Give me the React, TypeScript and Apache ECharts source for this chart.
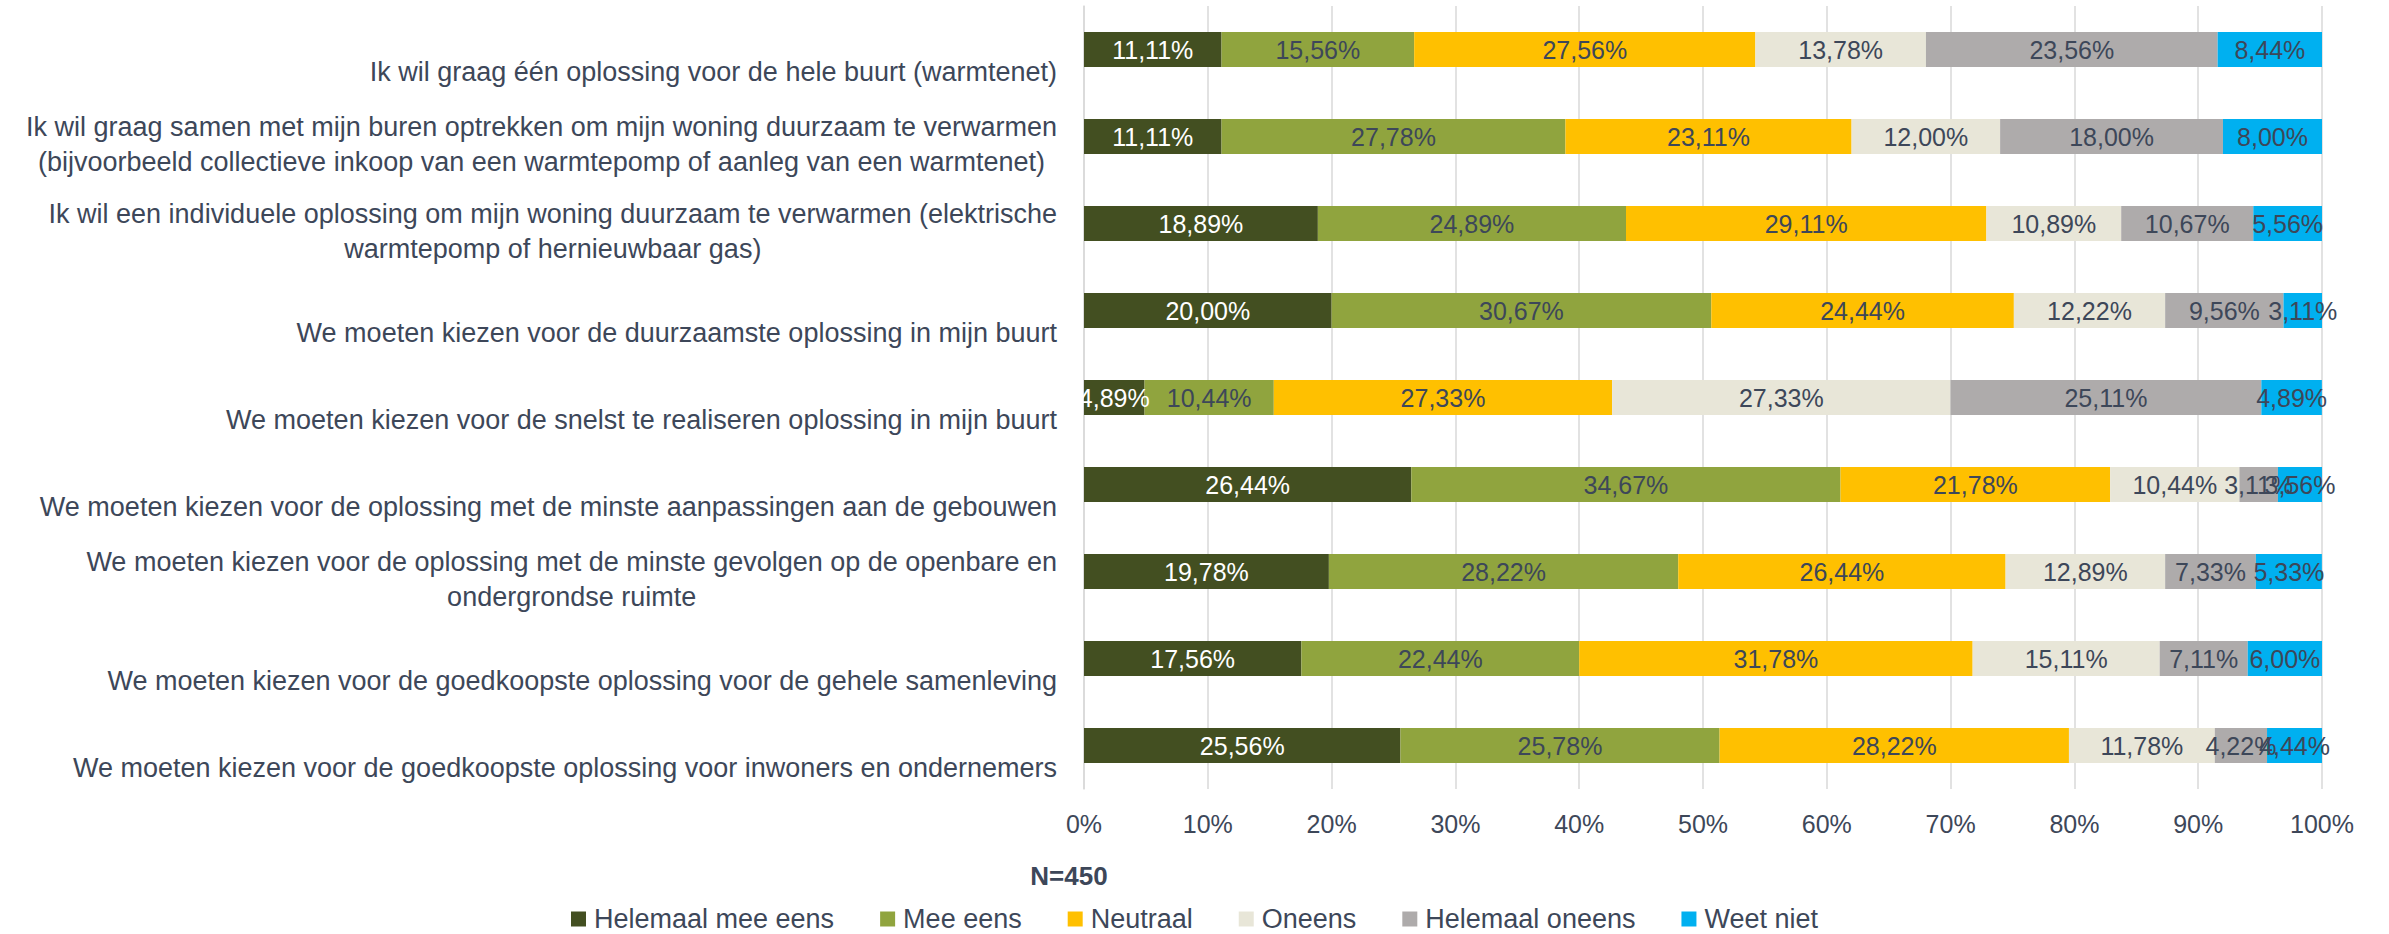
import React, { useEffect, useRef } from 'react';
import * as echarts from 'echarts';

const categories = [
  'Ik wil graag één oplossing voor de hele buurt (warmtenet)',
  'Ik wil graag samen met mijn buren optrekken om mijn woning duurzaam te verwarmen\n(bijvoorbeeld collectieve inkoop van een warmtepomp of aanleg van een warmtenet)',
  'Ik wil een individuele oplossing om mijn woning duurzaam te verwarmen (elektrische\nwarmtepomp of hernieuwbaar gas)',
  'We moeten kiezen voor de duurzaamste oplossing in mijn buurt',
  'We moeten kiezen voor de snelst te realiseren oplossing in mijn buurt',
  'We moeten kiezen voor de oplossing met de minste aanpassingen aan de gebouwen',
  'We moeten kiezen voor de oplossing met de minste gevolgen op de openbare en\nondergrondse ruimte',
  'We moeten kiezen voor de goedkoopste oplossing voor de gehele samenleving',
  'We moeten kiezen voor de goedkoopste oplossing voor inwoners en ondernemers',
];

const seriesNames = ['Helemaal mee eens', 'Mee eens', 'Neutraal', 'Oneens', 'Helemaal oneens', 'Weet niet'];

const helemaalMeeEens = [11.11, 11.11, 18.89, 20.0, 4.89, 26.44, 19.78, 17.56, 25.56];
const meeEens = [15.56, 27.78, 24.89, 30.67, 10.44, 34.67, 28.22, 22.44, 25.78];
const neutraal = [27.56, 23.11, 29.11, 24.44, 27.33, 21.78, 26.44, 31.78, 28.22];
const oneens = [13.78, 12.0, 10.89, 12.22, 27.33, 10.44, 12.89, 15.11, 11.78];
const helemaalOneens = [23.56, 18.0, 10.67, 9.56, 25.11, 3.11, 7.33, 7.11, 4.22];
const weetNiet = [8.44, 8.0, 5.56, 3.11, 4.89, 3.56, 5.33, 6.0, 4.44];

const sampleNote = 'N=450';

const seriesValues = [helemaalMeeEens, meeEens, neutraal, oneens, helemaalOneens, weetNiet];
const colors = ['#434f21', '#90a43e', '#ffc000', '#e8e6d8', '#aeabab', '#00b0f0'];
const labelColors = ['#ffffff', '#3d4759', '#3d4759', '#3d4759', '#3d4759', '#3d4759'];

const TEXT = '#3d4759';
const FONT = '"Liberation Sans", Arial, sans-serif';
const LINE_H = 35;

export default function App() {
  const ref = useRef<HTMLDivElement>(null);

  useEffect(() => {
    if (!ref.current) return;
    const chart = echarts.init(ref.current, undefined, { renderer: 'svg' });

    const option = {
      animation: false,
      grid: { left: 1084, right: 67, top: 6, bottom: 145, containLabel: false },
      xAxis: {
        type: 'value',
        min: 0,
        max: 100,
        interval: 10,
        axisLine: { show: false },
        axisTick: { show: false },
        splitLine: { show: true, lineStyle: { color: '#d9d9d9', width: 1.5 } },
        axisLabel: {
          formatter: '{value}%',
          color: TEXT,
          fontSize: 25,
          fontFamily: FONT,
          margin: 22,
        },
      },
      yAxis: {
        type: 'category',
        inverse: true,
        data: categories.map((c) => {
          const n = c.split('\n').length;
          return { value: c, textStyle: { padding: [80 - LINE_H * n + (n - 1) * 6, 0, 0, 0] } };
        }),
        axisTick: { show: false },
        axisLine: { show: true, lineStyle: { color: '#d9d9d9', width: 1.5 } },
        axisLabel: {
          interval: 0,
          margin: 27,
          align: 'right',
          verticalAlign: 'middle',
          color: TEXT,
          fontSize: 27,
          fontFamily: FONT,
          formatter: (v: string) =>
            v
              .split('\n')
              .map((l) => `{c|${l}}`)
              .join('\n'),
          rich: {
            c: { align: 'center', fontSize: 27, fontFamily: FONT, color: TEXT, lineHeight: LINE_H },
          },
        },
      },
      legend: {
        data: seriesNames,
        left: 'center',
        top: 905,
        padding: 0,
        itemWidth: 15,
        itemHeight: 15,
        itemGap: 46,
        icon: 'rect',
        textStyle: { color: TEXT, fontSize: 27, lineHeight: 28, fontFamily: FONT, padding: [0, 0, 0, 3] },
      },
      graphic: [
        {
          type: 'text',
          x: 1069,
          y: 876,
          style: {
            text: sampleNote,
            fontSize: 26,
            fontWeight: 'bold',
            fontFamily: FONT,
            fill: TEXT,
            align: 'center',
            verticalAlign: 'middle',
          },
        },
      ],
      series: seriesNames.map((name, i) => ({
        name,
        type: 'bar',
        stack: 'total',
        barWidth: 35,
        data: seriesValues[i],
        itemStyle: { color: colors[i] },
        label: {
          show: true,
          position: 'inside',
          color: labelColors[i],
          fontSize: 25,
          fontFamily: FONT,
          formatter: (p: any) => p.value.toFixed(2).replace('.', ',') + '%',
        },
      })),
    };

    chart.setOption(option as any);
    return () => chart.dispose();
  }, []);

  return (
    <div
      ref={ref}
      style={{ position: 'absolute', left: 0, top: 0, width: 2389, height: 934, background: '#ffffff' }}
    />
  );
}
